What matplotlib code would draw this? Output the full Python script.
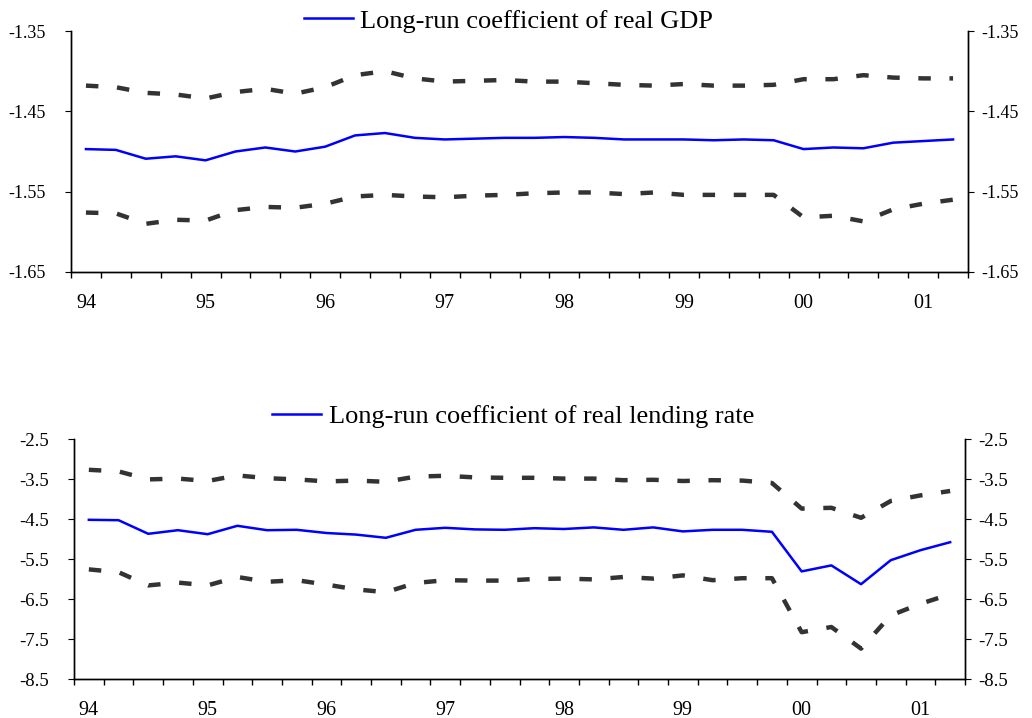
import matplotlib.pyplot as plt
from matplotlib.ticker import FormatStrFormatter

plt.rcParams['font.family'] = ['Liberation Serif', 'DejaVu Serif']

# quarterly, 1994Q1 .. 2001Q2
years = ['94', '95', '96', '97', '98', '99', '00', '01']

gdp_coef = [-1.497, -1.498, -1.509, -1.506, -1.511, -1.500, -1.495, -1.500,
            -1.494, -1.480, -1.477, -1.483, -1.485, -1.484, -1.483, -1.483,
            -1.482, -1.483, -1.485, -1.485, -1.485, -1.486, -1.485, -1.486,
            -1.497, -1.495, -1.496, -1.489, -1.487, -1.485]
gdp_upper = [-1.418, -1.420, -1.427, -1.429, -1.434, -1.426, -1.422, -1.428,
             -1.420, -1.405, -1.400, -1.409, -1.413, -1.412, -1.411, -1.413,
             -1.413, -1.415, -1.417, -1.418, -1.416, -1.418, -1.418, -1.417,
             -1.410, -1.410, -1.405, -1.408, -1.409, -1.409]
gdp_lower = [-1.576, -1.577, -1.590, -1.585, -1.586, -1.573, -1.569, -1.570,
             -1.565, -1.556, -1.554, -1.556, -1.557, -1.555, -1.554, -1.552,
             -1.551, -1.551, -1.553, -1.551, -1.554, -1.554, -1.554, -1.554,
             -1.582, -1.580, -1.587, -1.572, -1.565, -1.560]

rate_coef = [-4.52, -4.53, -4.87, -4.78, -4.88, -4.67, -4.78, -4.77,
             -4.85, -4.89, -4.97, -4.77, -4.72, -4.76, -4.77, -4.73,
             -4.75, -4.71, -4.77, -4.71, -4.81, -4.77, -4.77, -4.82,
             -5.81, -5.66, -6.13, -5.53, -5.28, -5.08]
rate_upper = [-3.27, -3.31, -3.51, -3.49, -3.55, -3.41, -3.48, -3.51,
              -3.56, -3.54, -3.57, -3.44, -3.42, -3.46, -3.47, -3.47,
              -3.49, -3.49, -3.53, -3.52, -3.55, -3.53, -3.54, -3.60,
              -4.24, -4.22, -4.47, -4.05, -3.91, -3.80]
rate_lower = [-5.76, -5.83, -6.16, -6.09, -6.16, -5.95, -6.07, -6.03,
              -6.14, -6.26, -6.33, -6.10, -6.03, -6.04, -6.04, -6.00,
              -5.99, -6.01, -5.95, -5.99, -5.91, -6.03, -5.98, -5.98,
              -7.33, -7.20, -7.74, -6.91, -6.62, -6.38]


def drawPanel(fig, rect, coef, upper, lower, label, ylim, yticks, fmt,
              ysize, legendPos):
    ax = fig.add_axes(rect)
    x = list(range(len(coef)))

    dash = (0, (2.8, 4.2))
    ax.plot(x, upper, color='#333333', lw=3.2, linestyle=dash,
            dash_capstyle='butt')
    ax.plot(x, lower, color='#333333', lw=3.2, linestyle=dash,
            dash_capstyle='butt')
    line, = ax.plot(x, coef, color='#0000ff', lw=1.8)

    ax.set_xlim(-0.5, len(coef) - 0.5)
    ax.set_ylim(*ylim)

    # quarter boundaries as ticks, year labels centred on first quarter
    ax.set_xticks([i - 0.5 for i in range(len(coef) + 1)])
    ax.set_xticklabels([])
    ax.set_xticks([4 * i for i in range(len(years))], years, minor=True)
    ax.tick_params(axis='x', which='major', direction='out', length=4.5,
                   width=1)
    ax.tick_params(axis='x', which='minor', length=0, pad=15.5, labelsize=14.5)

    ax.set_yticks(yticks)
    ax.yaxis.set_major_formatter(FormatStrFormatter(fmt))
    ax.tick_params(axis='y', direction='out', length=4.5, pad=13.5,
                   labelsize=ysize)

    ax2 = ax.twinx()
    ax2.set_ylim(*ylim)
    ax2.set_yticks(yticks)
    ax2.yaxis.set_major_formatter(FormatStrFormatter(fmt))
    ax2.tick_params(axis='y', direction='out', length=4.5, pad=5,
                    labelsize=ysize)

    for a in (ax, ax2):
        a.spines['top'].set_visible(False)
        for s in ('left', 'right', 'bottom'):
            a.spines[s].set_linewidth(1)

    fig.legend([line], [label], loc='center', bbox_to_anchor=legendPos,
               frameon=False, fontsize=19, handlelength=1.85,
               handletextpad=0.3, borderpad=0.1)
    return ax


fig = plt.figure(figsize=(10.32, 7.18), dpi=100)

drawPanel(fig, [71 / 1032, 1 - 272 / 718, 897 / 1032, 241 / 718],
          gdp_coef, gdp_upper, gdp_lower, 'Long-run coefficient of real GDP',
          (-1.65, -1.35), [-1.65, -1.55, -1.45, -1.35], '%.2f', 13,
          (508.5 / 1032, 1 - 21 / 718))

drawPanel(fig, [74 / 1032, 1 - 679 / 718, 891 / 1032, 240 / 718],
          rate_coef, rate_upper, rate_lower,
          'Long-run coefficient of real lending rate',
          (-8.5, -2.5), [-8.5, -7.5, -6.5, -5.5, -4.5, -3.5, -2.5], '%.1f',
          13.5, (513.5 / 1032, 1 - 416 / 718))

plt.savefig('out.png', dpi=100)
